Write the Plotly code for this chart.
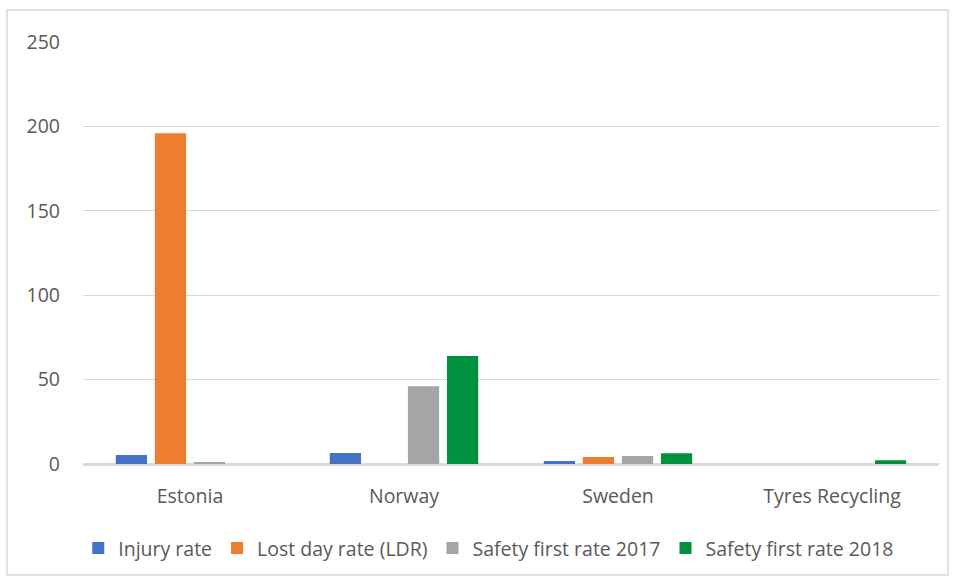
import plotly.graph_objects as go

categories = ["Estonia", "Norway", "Sweden", "Tyres Recycling"]
injury_rate = [5.3, 6.5, 1.8, 0]
lost_day_rate = [196, 0, 4.1, 0]
safety_2017 = [1.2, 46, 4.7, 0]
safety_2018 = [0, 64, 6.3, 2.2]

series = [
    ("Injury rate", injury_rate, "#4472C4"),
    ("Lost day rate (LDR)", lost_day_rate, "#ED7D31"),
    ("Safety first rate 2017", safety_2017, "#A5A5A5"),
    ("Safety first rate 2018", safety_2018, "#00913F"),
]

fig = go.Figure()
for name, vals, col in series:
    fig.add_trace(go.Bar(x=categories, y=vals, name=name, marker_color=col,
                         marker_line_width=0))

L, R, T, B = 83, 16, 42, 117
W, H = 955, 581
pw, ph = W - L - R, H - T - B

fig.update_layout(
    width=W, height=H,
    margin=dict(l=L, r=R, t=T, b=B),
    paper_bgcolor="white", plot_bgcolor="white",
    barmode="group", bargap=0.27, bargroupgap=0.2,
    font=dict(family="Open Sans, Liberation Sans, sans-serif", size=19.5, color="#595959"),
    showlegend=True,
    legend=dict(orientation="h", x=0.474, xanchor="center", y=-0.2, yanchor="middle",
                font=dict(size=19.5, color="#595959"), itemwidth=30, traceorder="normal"),
    xaxis=dict(showgrid=False, showline=True, linecolor="#D9D9D9", linewidth=1.5,
               ticks="", ticklabelstandoff=14),
    yaxis=dict(range=[0, 250], dtick=50, showgrid=True, gridcolor="#D9D9D9",
               gridwidth=1, zeroline=True, zerolinecolor="#D9D9D9", showline=False,
               ticks="", ticklabelstandoff=22),
    shapes=[dict(type="rect", xref="paper", yref="paper",
                 x0=(7 - L) / pw, x1=(948 - L) / pw,
                 y0=(T + ph - 575) / ph, y1=(T + ph - 10) / ph,
                 line=dict(color="#D9D9D9", width=1.5), fillcolor="rgba(0,0,0,0)",
                 layer="below")],
)

fig.write_html("out.html")
